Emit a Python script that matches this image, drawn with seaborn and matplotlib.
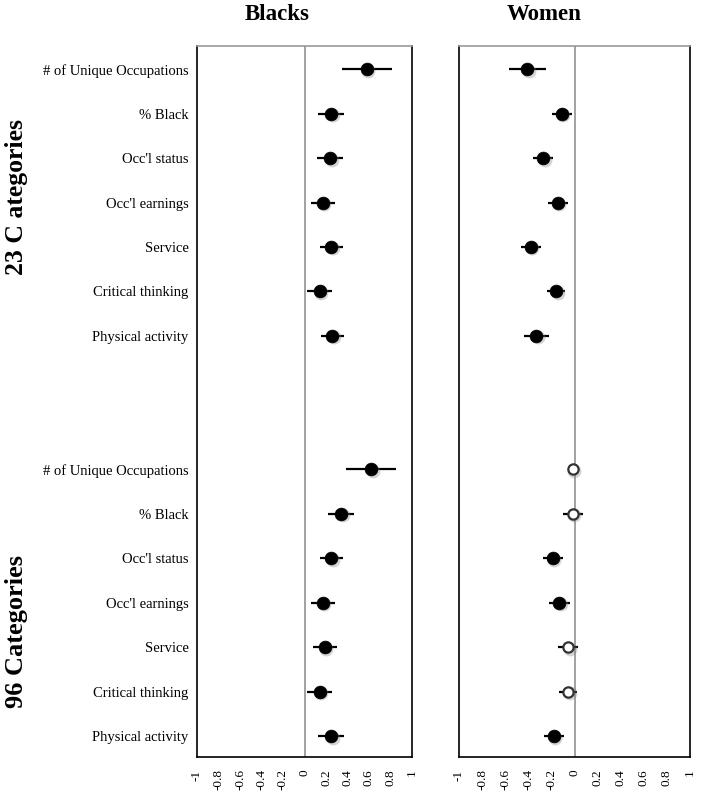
import numpy as np
import pandas as pd
import matplotlib
matplotlib.use("Agg")
import matplotlib.pyplot as plt
import matplotlib.transforms as mtransforms
import seaborn as sns

sns.set_style("white")
plt.rcParams['font.family'] = ['Liberation Serif', 'DejaVu Serif']
plt.rcParams['text.color'] = 'black'
plt.rcParams['xtick.color'] = 'black'
plt.rcParams['ytick.color'] = 'black'

# ------------------------------
# data
# ------------------------------
measures = ["# of Unique Occupations", "% Black", "Occ'l status", "Occ'l earnings",
            "Service", "Critical thinking", "Physical activity"]
groups = ["23 C ategories", "96 Categories"]
panels = ["Blacks", "Women"]

blacks_23 = [0.58, 0.25, 0.24, 0.17, 0.25, 0.14, 0.26]
blacks_23_ci = [0.23, 0.12, 0.12, 0.11, 0.11, 0.115, 0.105]
blacks_96 = [0.62, 0.34, 0.25, 0.17, 0.19, 0.14, 0.25]
blacks_96_ci = [0.235, 0.125, 0.11, 0.11, 0.11, 0.115, 0.12]

women_23 = [-0.41, -0.11, -0.27, -0.145, -0.38, -0.16, -0.33]
women_23_ci = [0.16, 0.085, 0.087, 0.087, 0.087, 0.08, 0.11]
women_96 = [-0.015, -0.015, -0.19, -0.13, -0.055, -0.055, -0.18]
women_96_ci = [0.015, 0.085, 0.087, 0.087, 0.087, 0.08, 0.087]
women_96_sig = [False, False, True, True, False, False, True]

xticks = [-1, -0.8, -0.6, -0.4, -0.2, 0, 0.2, 0.4, 0.6, 0.8, 1]

# ------------------------------
# long table
# ------------------------------
rows = []
series = {
    ("Blacks", 0): (blacks_23, blacks_23_ci, [True] * 7),
    ("Blacks", 1): (blacks_96, blacks_96_ci, [True] * 7),
    ("Women", 0): (women_23, women_23_ci, [True] * 7),
    ("Women", 1): (women_96, women_96_ci, women_96_sig),
}
gap = len(measures) + 2
for (panel, g), (est, ci, sig) in series.items():
    for i, m in enumerate(measures):
        rows.append({"panel": panel, "group": groups[g], "measure": m,
                     "ypos": g * gap + i, "est": est[i], "ci": ci[i], "sig": sig[i]})
df = pd.DataFrame(rows)

# ------------------------------
# plot
# ------------------------------
fig = plt.figure(figsize=(7.04, 8.01), dpi=100)
ax_b = fig.add_axes([197 / 704, 1 - 757 / 801, 215 / 704, 711 / 801])
ax_w = fig.add_axes([459 / 704, 1 - 757 / 801, 231 / 704, 711 / 801])

for ax, panel in zip([ax_b, ax_w], panels):
    d = df[df.panel == panel]
    ax.axvline(0, color="#9a9a9a", lw=1.3, zorder=0)
    ax.hlines(d.ypos, d.est - d.ci, d.est + d.ci, color="black", lw=1.6, zorder=2)

    # soft shadow behind markers
    shadow = mtransforms.offset_copy(ax.transData, fig=fig, x=1.5, y=-1.5, units="dots")
    ax.scatter(d.est, d.ypos, s=100, color="#888888", alpha=0.35, linewidths=0,
               transform=shadow, zorder=2.5)

    filled = d[d.sig]
    hollow = d[~d.sig]
    sns.scatterplot(data=filled, x="est", y="ypos", ax=ax, s=85, color="black",
                    edgecolor="black", linewidth=0.5, zorder=3, legend=False)
    if len(hollow):
        sns.scatterplot(data=hollow, x="est", y="ypos", ax=ax, s=55, color="white",
                        edgecolor="#333333", linewidth=1.6, zorder=3, legend=False)

    ax.set_xlim(-1, 1)
    ax.set_ylim(gap + len(measures) - 0.53, -0.52)
    ax.set_xticks(xticks)
    ax.set_xticklabels([f"{v:g}" for v in xticks])
    ax.tick_params(axis="x", length=0, pad=9, labelsize=9.5, labelrotation=90)
    ax.set_xlabel("")
    ax.set_ylabel("")
    for sp in ax.spines.values():
        sp.set_visible(True)
        sp.set_color("black")
        sp.set_linewidth(1.2)
    ax.spines["top"].set_color("#999999")

ax_b.set_yticks(df[df.panel == "Blacks"].ypos)
ax_b.set_yticklabels(df[df.panel == "Blacks"].measure, fontsize=10.5)
ax_b.tick_params(axis="y", length=0, pad=6)
ax_w.set_yticks([])

# titles and group labels
fig.text(277.5 / 704, 1 - 15 / 801, panels[0], ha="center", va="center",
         fontsize=16.5, fontweight="bold")
fig.text(544.5 / 704, 1 - 15 / 801, panels[1], ha="center", va="center",
         fontsize=16.5, fontweight="bold")
fig.text(17 / 704, 1 - 197 / 801, groups[0], rotation=90, ha="center", va="center",
         fontsize=18.5, fontweight="bold")
fig.text(17 / 704, 1 - 632 / 801, groups[1], rotation=90, ha="center", va="center",
         fontsize=19, fontweight="bold")

fig.savefig("out.png", dpi=100)
